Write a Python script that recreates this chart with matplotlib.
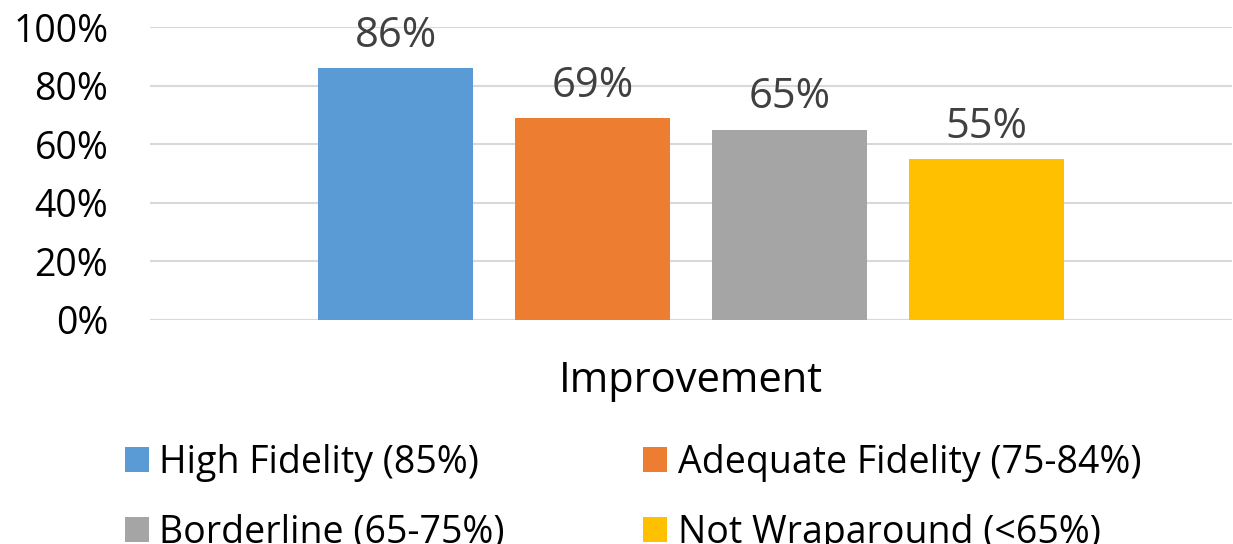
import numpy as np
import matplotlib.pyplot as plt

plt.rcParams["font.family"] = ["Open Sans", "DejaVu Sans"]

category = ["Improvement"]
series = ["High Fidelity (85%)", "Adequate Fidelity (75-84%)",
          "Borderline (65-75%)", "Not Wraparound (<65%)"]
values = [0.86, 0.69, 0.65, 0.55]
colors = ["#5B9BD5", "#ED7D31", "#A5A5A5", "#FFC000"]
yticks = [0, 0.2, 0.4, 0.6, 0.8, 1.0]

fig = plt.figure(figsize=(12.33, 5.44), dpi=100)
ax = fig.add_axes([150 / 1233, 1 - 320 / 544, 1082 / 1233, 293 / 544])

x = np.arange(len(category))
step = 0.182
width = 0.1435
offsets = (np.arange(len(series)) - (len(series) - 1) / 2) * step

handles = []
for i, (name, v, c) in enumerate(zip(series, values, colors)):
    b = ax.bar(x + offsets[i], [v], width=width, color=c, label=name, zorder=3)
    handles.append(b)
    ax.annotate("{:.0%}".format(v), (x[0] + offsets[i], v), xytext=(0, 8),
                textcoords="offset points", ha="center", va="bottom",
                fontsize=30, color="#404040")

ax.set_xlim(-0.5, 0.5)
ax.set_ylim(0, 1.0)
ax.set_yticks(yticks)
ax.set_yticklabels(["{:.0%}".format(t) for t in yticks], fontsize=27)
ax.yaxis.grid(True, color="#D9D9D9", linewidth=1.5, zorder=0)
ax.set_xticks(x)
ax.set_xticklabels(category, fontsize=30)
ax.tick_params(axis="y", length=0, pad=30)
ax.tick_params(axis="x", length=0, pad=29)
for s in ax.spines.values():
    s.set_visible(False)
ax.axhline(0, color="#D9D9D9", linewidth=1.5, zorder=2)

# legend is filled row by row in the original
order = [0, 2, 1, 3]
fig.legend([handles[i] for i in order], [series[i] for i in order],
           loc="upper left", bbox_to_anchor=(125 / 1233, 1 - 444 / 544),
           ncol=2, fontsize=27, frameon=False, borderpad=0, borderaxespad=0,
           handlelength=0.64, handleheight=0.64, handletextpad=0.27,
           columnspacing=3.7, labelspacing=0.85)

fig.savefig("out.png", dpi=100)
